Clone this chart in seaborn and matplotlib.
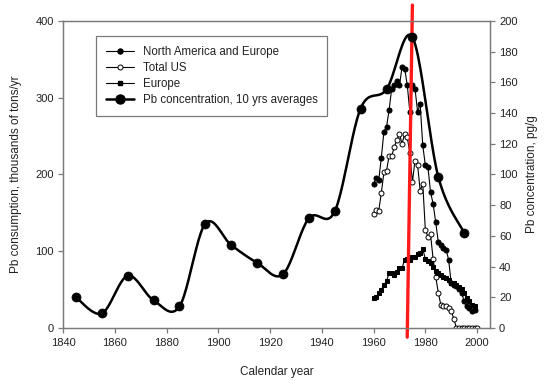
import numpy as np
import pandas as pd
import matplotlib
matplotlib.use("Agg")
import matplotlib.pyplot as plt
from matplotlib.lines import Line2D
import seaborn as sns

# annual consumption, thousands of tons/yr
years_nae = list(range(1960, 2000))
nae = [188, 195, 193, 222, 256, 262, 284, 312, 317, 322,
       316, 340, 338, 317, 282, 317, 312, 282, 292, 238,
       212, 210, 177, 162, 138, 112, 108, 104, 102, 89,
       58, 56, 55, 51, 46, 35, 28, 26, 22, 24]

years_us = list(range(1960, 2001))
total_us = [149, 154, 153, 176, 203, 205, 224, 224, 236, 245,
            253, 240, 253, 249, 228, 190, 218, 213, 179, 188,
            128, 119, 122, 90, 67, 46, 30, 29, 29, 26,
            22, 12, 0, 0, 0, 0, 0, 0, 0, 0, 0]

years_eu = list(range(1960, 2000))
europe = [39, 40, 46, 50, 56, 61, 72, 71, 69, 73,
          78, 78, 89, 90, 89, 93, 93, 96, 98, 103,
          90, 87, 85, 80, 74, 72, 69, 67, 65, 63,
          59, 59, 56, 54, 51, 46, 39, 35, 30, 28]

# Pb concentration, 10 yrs averages, pg/g
years_conc = [1845, 1855, 1865, 1875, 1885, 1895, 1905, 1915,
              1925, 1935, 1945, 1955, 1965, 1975, 1985, 1995]
conc = [20, 9.5, 34, 18, 14, 68, 54, 42.5,
        35, 71.5, 76, 143, 155.5, 189.5, 98.5, 62]

# red marker line (top year, bottom year)
red_years = [1975, 1973]

x_ticks = [1840, 1860, 1880, 1900, 1920, 1940, 1960, 1980, 2000]
left_ticks = [0, 100, 200, 300, 400]
right_ticks = [0, 20, 40, 60, 80, 100, 120, 140, 160, 180, 200]


def smooth_line(xs, ys, n=24):
    # bezier smoothing through the points, like a spreadsheet "smoothed line"
    pts = np.column_stack([xs, ys]).astype(float)
    out = []
    for i in range(len(pts) - 1):
        p0 = pts[i - 1] if i > 0 else pts[i]
        p1 = pts[i]
        p2 = pts[i + 1]
        p3 = pts[i + 2] if i + 2 < len(pts) else pts[i + 1]
        c1 = p1 + (p2 - p0) / 6
        c2 = p2 - (p3 - p1) / 6
        t = np.linspace(0, 1, n)[:, None]
        seg = ((1 - t) ** 3 * p1 + 3 * (1 - t) ** 2 * t * c1
               + 3 * (1 - t) * t ** 2 * c2 + t ** 3 * p2)
        out.append(seg if i == 0 else seg[1:])
    out = np.vstack(out)
    return out[:, 0], out[:, 1]


sns.set_theme(style="white")
plt.rcParams['font.family'] = ['Liberation Sans', 'DejaVu Sans']
txt = '#222222'
spine = '#7a7a7a'

fig = plt.figure(figsize=(5.5, 3.87), dpi=100)
ax = fig.add_axes([0.1145, 0.1525, 0.7765, 0.7932])
ax2 = ax.twinx()

df_nae = pd.DataFrame({'year': years_nae, 'val': nae})
df_us = pd.DataFrame({'year': years_us, 'val': total_us})
df_eu = pd.DataFrame({'year': years_eu, 'val': europe})

sns.lineplot(data=df_nae, x='year', y='val', ax=ax, color='black', lw=0.8,
             marker='o', markersize=3.6, markerfacecolor='black',
             markeredgecolor='black', zorder=3)
sns.lineplot(data=df_us, x='year', y='val', ax=ax, color='black', lw=0.8,
             marker='o', markersize=3.6, markerfacecolor='white',
             markeredgecolor='black', markeredgewidth=0.7, zorder=3)
sns.lineplot(data=df_eu, x='year', y='val', ax=ax, color='black', lw=0.8,
             marker='s', markersize=3.4, markerfacecolor='black',
             markeredgecolor='black', zorder=3)

sx, sy = smooth_line(years_conc, conc)
sns.lineplot(x=sx, y=sy, ax=ax2, color='black', lw=1.8, sort=False,
             estimator=None, zorder=4)
sns.scatterplot(x=years_conc, y=conc, ax=ax2, color='black', s=42,
                marker='o', edgecolor='black', zorder=5)

# red vertical line, extends a little past the axes
ax.plot(red_years, [1.052, -0.03], transform=ax.get_xaxis_transform(),
        color='#ff1a1a', lw=2.4, clip_on=False, zorder=10)

ax.set_xlim(1840, 2005)
ax.set_ylim(0, 400)
ax2.set_ylim(0, 200)
ax.set_xticks(x_ticks)
ax.set_yticks(left_ticks)
ax2.set_yticks(right_ticks)

ax.set_xlabel('Calendar year', fontsize=8.5, color=txt, labelpad=13)
ax.set_ylabel('Pb consumption, thousands of tons/yr', fontsize=8.5,
              color=txt, labelpad=10)
ax2.set_ylabel('Pb concentration, pg/g', fontsize=8.5, color=txt,
               labelpad=6)

for a in (ax, ax2):
    for s in a.spines.values():
        s.set_color(spine)
        s.set_linewidth(0.9)
    a.tick_params(colors=spine, labelcolor=txt, labelsize=8, length=3.5,
                  width=0.9, direction='out')
ax.tick_params(axis='x', bottom=True, pad=4)
ax.tick_params(axis='y', left=True, pad=3)
ax2.tick_params(axis='y', right=True, pad=3)

handles = [
    Line2D([], [], color='black', lw=0.8, marker='o', markersize=3.6),
    Line2D([], [], color='black', lw=0.8, marker='o', markersize=3.6,
           markerfacecolor='white', markeredgewidth=0.7),
    Line2D([], [], color='black', lw=0.8, marker='s', markersize=3.4),
    Line2D([], [], color='black', lw=1.8, marker='o', markersize=6.5),
]
labels = ['North America and Europe', 'Total US', 'Europe',
          'Pb concentration, 10 yrs averages']
leg = ax.legend(handles, labels, loc='upper left',
                bbox_to_anchor=(0.077, 0.951), borderaxespad=0,
                fontsize=8.3, frameon=True, fancybox=False, framealpha=1,
                edgecolor=spine, handlelength=2.5, labelspacing=0.35,
                borderpad=0.85, handletextpad=0.7)
leg.get_frame().set_linewidth(0.9)
for t in leg.get_texts():
    t.set_color(txt)

fig.savefig('out.png', dpi=100)
